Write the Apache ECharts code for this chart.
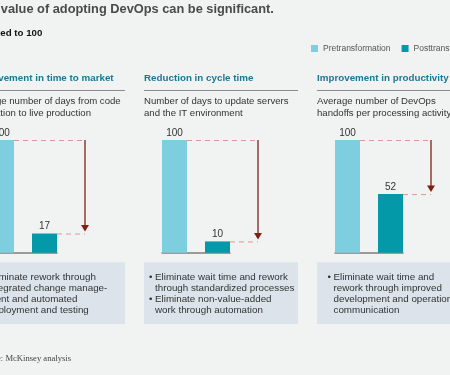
<!DOCTYPE html>
<html>
<head>
<meta charset="utf-8">
<script src="https://cdn.jsdelivr.net/npm/echarts@6/dist/echarts.min.js"></script>
<style>
  html, body { margin: 0; padding: 0; background: #f1f2f2; }
  #main { width: 450px; height: 375px; }
</style>
</head>
<body>
<div id="main"></div>
<script>
// chart data
var seriesNames = ['Pretransformation', 'Posttransformation'];
var panelTitles = ['Improvement in time to market', 'Reduction in cycle time', 'Improvement in productivity'];
var panelSubtitles = [
    'Average number of days from code\nintegration to live production',
    'Number of days to update servers\nand the IT environment',
    'Average number of DevOps\nhandoffs per processing activity'
];
var preValues = [100, 100, 100];
var postValues = [17, 10, 52];
var panelNotes = [
    ['Eliminate rework through\nintegrated change manage-\nment and automated\ndeployment and testing'],
    ['Eliminate wait time and rework\nthrough standardized processes', 'Eliminate non-value-added\nwork through automation'],
    ['Eliminate wait time and\nrework through improved\ndevelopment and operations\ncommunication']
];

var FONT = '"Liberation Sans", Arial, Helvetica, sans-serif';
var preColor = '#7dcfe0';
var postColor = '#0499a9';
var panelLeft = [-29, 144, 317];
var textLeft = [-12.5, 155, 333.5];

var myChart = echarts.init(document.getElementById('main'));

var grids = [], xAxes = [], yAxes = [], series = [], graphics = [];

panelLeft.forEach(function (left, i) {
    grids.push({ left: left + 18, width: 68, top: 140, bottom: 122.3, outerBoundsMode: 'none' });
    xAxes.push({
        type: 'category', gridIndex: i, data: [panelTitles[i]],
        axisLine: { lineStyle: { color: '#7d7d7d', width: 1.5 } },
        axisTick: { show: false }, axisLabel: { show: false }
    });
    yAxes.push({ type: 'value', gridIndex: i, min: 0, max: 100, show: false, splitLine: { show: false } });

    var lbl = { show: true, position: 'top', distance: 2, fontSize: 10, color: '#333', fontFamily: FONT };
    series.push({
        name: seriesNames[0], type: 'bar', xAxisIndex: i, yAxisIndex: i,
        barWidth: 25, barGap: '72%', itemStyle: { color: preColor },
        label: lbl, data: [preValues[i]], silent: true
    });
    series.push({
        name: seriesNames[1], type: 'bar', xAxisIndex: i, yAxisIndex: i,
        barWidth: 25, barGap: '72%', itemStyle: { color: postColor },
        label: lbl, data: [postValues[i]], silent: true
    });

    // panel header, rule, subtitle
    graphics.push({
        type: 'text', id: 'head' + i,
        style: { text: panelTitles[i], x: left, y: 78.3, verticalAlign: 'middle',
            font: 'bold 9.8px ' + FONT, fill: '#1b7894' }
    });
    graphics.push({
        type: 'line', id: 'rule' + i,
        shape: { x1: left, y1: 90.5, x2: left + 154, y2: 90.5 },
        style: { stroke: '#8c8c8c', lineWidth: 1 }
    });
    graphics.push({
        type: 'text', id: 'sub' + i,
        style: { text: panelSubtitles[i], x: left, y: 95.9, verticalAlign: 'top',
            font: '9.6px ' + FONT, lineHeight: 11.6, fill: '#333' }
    });

    // note box
    graphics.push({
        type: 'rect', id: 'box' + i,
        shape: { x: left, y: 262.3, width: 154, height: 61.7 },
        style: { fill: '#dce3ea' }
    });
    var body = panelNotes[i].join('\n');
    var bullets = panelNotes[i].map(function (n) {
        return '•' + new Array(n.split('\n').length).join('\n ');
    }).join('\n');
    graphics.push({
        type: 'text', id: 'bul' + i,
        style: { text: bullets, x: textLeft[i] - 6, y: 272, verticalAlign: 'top',
            font: '9.8px ' + FONT, lineHeight: 10.9, fill: '#333' }
    });
    graphics.push({
        type: 'text', id: 'note' + i,
        style: { text: body, x: textLeft[i], y: 272, verticalAlign: 'top',
            font: '9.8px ' + FONT, lineHeight: 10.9, fill: '#333' }
    });
});

graphics.push({
    type: 'text', id: 'title',
    style: { text: 'The value of adopting DevOps can be significant.', x: -25.5, y: 9.5,
        verticalAlign: 'middle', font: 'bold 12.8px ' + FONT, fill: '#4a4a4a' }
});
graphics.push({
    type: 'text', id: 'unit',
    style: { text: 'Indexed to 100', x: -25, y: 33, verticalAlign: 'middle',
        font: 'bold 9.7px ' + FONT, fill: '#111' }
});
graphics.push({
    type: 'text', id: 'source',
    style: { text: 'Source: McKinsey analysis', x: -23, y: 358.3, verticalAlign: 'middle',
        font: '8.6px "Liberation Serif", "Times New Roman", serif', fill: '#444' }
});

var option = {
    backgroundColor: '#f1f2f2',
    animation: false,
    legend: {
        data: seriesNames, left: 311, top: 44, width: 220, padding: 0,
        orient: 'horizontal',
        icon: 'rect', itemWidth: 7, itemHeight: 7, itemGap: 11,
        textStyle: { fontSize: 8.5, color: '#555', fontFamily: FONT },
        selectedMode: false
    },
    grid: grids,
    xAxis: xAxes,
    yAxis: yAxes,
    series: series,
    graphic: graphics
};

myChart.setOption(option);

// dashed guides and arrows, positioned from the axes
var marks = [];
panelLeft.forEach(function (left, i) {
    var gl = left + 18;
    var yPre = myChart.convertToPixel({ yAxisIndex: i }, preValues[i]);
    var yPost = myChart.convertToPixel({ yAxisIndex: i }, postValues[i]);
    var ax = gl + 96;
    marks.push({
        type: 'line', id: 'dpre' + i,
        shape: { x1: gl + 25, y1: yPre + 0.5, x2: ax, y2: yPre + 0.5 },
        style: { stroke: '#d99a94', lineWidth: 1, lineDash: [5, 4] }
    });
    marks.push({
        type: 'line', id: 'dpost' + i,
        shape: { x1: gl + 68, y1: yPost + 0.5, x2: ax, y2: yPost + 0.5 },
        style: { stroke: '#d99a94', lineWidth: 1, lineDash: [5, 4] }
    });
    marks.push({
        type: 'line', id: 'arr' + i,
        shape: { x1: ax, y1: yPre, x2: ax, y2: yPost - 6 },
        style: { stroke: '#7b2216', lineWidth: 1.3 }
    });
    marks.push({
        type: 'polygon', id: 'head-arr' + i,
        shape: { points: [[ax - 4, yPost - 8.5], [ax + 4, yPost - 8.5], [ax, yPost - 2]] },
        style: { fill: '#7b2216' }
    });
});
myChart.setOption({ graphic: marks });
</script>
</body>
</html>
